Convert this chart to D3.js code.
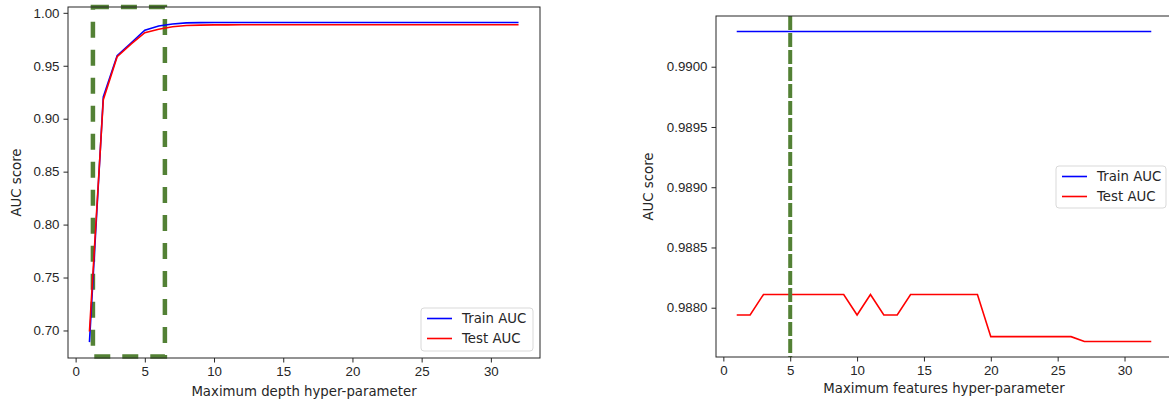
<!DOCTYPE html>
<html>
<head>
<meta charset="utf-8">
<script src="https://cdn.jsdelivr.net/npm/d3@7"></script>
<style>
  body { margin: 0; background: #fff; }
  svg { display: block; font-family: "DejaVu Sans", sans-serif; }
  .axis text { font-size: 13.3px; fill: #262626; }
  .axis path, .axis line { stroke: #262626; }
</style>
</head>
<body>
<script>
// max_depth sweep (left plot)
var depthValues = [1, 2, 3, 4, 5, 6, 7, 8, 9, 10, 11, 12, 13, 14, 15, 16,
                   17, 18, 19, 20, 21, 22, 23, 24, 25, 26, 27, 28, 29, 30, 31, 32];
var depthTrain = [0.689, 0.9205, 0.9595, 0.9715, 0.9836, 0.9875, 0.9895, 0.9905, 0.9907, 0.9908,
                  0.9908, 0.9908, 0.9908, 0.9908, 0.9908, 0.9908, 0.9908, 0.9908, 0.9908, 0.9908,
                  0.9908, 0.9908, 0.9908, 0.9908, 0.9908, 0.9908, 0.9908, 0.9908, 0.9908, 0.9908,
                  0.9908, 0.9908];
var depthTest = [0.699, 0.9180, 0.9585, 0.9705, 0.9812, 0.9845, 0.9868, 0.9880, 0.9884, 0.9886,
                 0.9886, 0.9887, 0.9887, 0.9888, 0.9888, 0.9888, 0.9888, 0.9888, 0.9888, 0.9888,
                 0.9888, 0.9888, 0.9888, 0.9888, 0.9888, 0.9888, 0.9888, 0.9888, 0.9888, 0.9888,
                 0.9888, 0.9888];
var depthTicksY = [0.70, 0.75, 0.80, 0.85, 0.90, 0.95, 1.00];
var depthBox = [1.25, 6.45, 0.6755, 1.0055];   // x0, x1, y0, y1 of green dashed box

// max_features sweep (right plot)
var featValues = [1, 2, 3, 4, 5, 6, 7, 8, 9, 10, 11, 12, 13, 14, 15, 16,
                  17, 18, 19, 20, 21, 22, 23, 24, 25, 26, 27, 28, 29, 30, 31, 32];
var featTrain = [0.990292, 0.990292, 0.990292, 0.990292, 0.990292, 0.990292, 0.990292, 0.990292,
                 0.990292, 0.990292, 0.990292, 0.990292, 0.990292, 0.990292, 0.990292, 0.990292,
                 0.990292, 0.990292, 0.990292, 0.990292, 0.990292, 0.990292, 0.990292, 0.990292,
                 0.990292, 0.990292, 0.990292, 0.990292, 0.990292, 0.990292, 0.990292, 0.990292];
var featTest = [0.98794, 0.98794, 0.98811, 0.98811, 0.98811, 0.98811, 0.98811, 0.98811,
                0.98811, 0.98794, 0.98811, 0.98794, 0.98794, 0.98811, 0.98811, 0.98811,
                0.98811, 0.98811, 0.98811, 0.98776, 0.98776, 0.98776, 0.98776, 0.98776,
                0.98776, 0.98776, 0.98772, 0.98772, 0.98772, 0.98772, 0.98772, 0.98772];
var featTicksY = [0.9880, 0.9885, 0.9890, 0.9895, 0.9900];
var featLine = 5;

var xTicks = [0, 5, 10, 15, 20, 25, 30];
var legendNames = ["Train AUC", "Test AUC"];
var lineColors = ["#0000ff", "#ff0000"];
var green = "#538135";

var W = 1169, H = 406;
var svg = d3.select("body").append("svg")
    .attr("width", W)
    .attr("height", H);

function drawPanel(opt) {
    var x = d3.scaleLinear().domain(opt.xDomain).range([opt.left, opt.right]);
    var y = d3.scaleLinear().domain(opt.yDomain).range([opt.bottom, opt.top]);
    var g = svg.append("g");

    var line = d3.line()
        .x(function (d) { return x(d[0]); })
        .y(function (d) { return y(d[1]); });

    // green guide box drawn first (under the series)
    if (opt.box) {
        var b = opt.box;
        g.append("rect")
            .attr("x", x(b[0]))
            .attr("y", y(b[3]))
            .attr("width", x(b[1]) - x(b[0]))
            .attr("height", y(b[2]) - y(b[3]))
            .attr("fill", "none")
            .attr("stroke", green)
            .attr("stroke-width", 4.5)
            .attr("stroke-dasharray", "16,12");
    }

    opt.series.forEach(function (s, i) {
        var pts = opt.xs.map(function (v, k) { return [v, s[k]]; });
        g.append("path")
            .datum(pts)
            .attr("fill", "none")
            .attr("stroke", lineColors[i])
            .attr("stroke-width", 1.6)
            .attr("d", line);
    });

    if (opt.vline != null) {
        g.append("line")
            .attr("x1", x(opt.vline)).attr("x2", x(opt.vline))
            .attr("y1", opt.top).attr("y2", opt.bottom)
            .attr("stroke", green)
            .attr("stroke-width", 4)
            .attr("stroke-dasharray", "14,3");
    }

    // axes
    g.append("g")
        .attr("class", "axis")
        .attr("transform", "translate(0," + opt.bottom + ")")
        .call(d3.axisBottom(x).tickValues(xTicks).tickSize(4.5).tickPadding(4).tickSizeOuter(0))
        .call(function (a) { a.select(".domain").remove(); });

    g.append("g")
        .attr("class", "axis")
        .attr("transform", "translate(" + opt.left + ",0)")
        .call(d3.axisLeft(y).tickValues(opt.yTicks).tickFormat(d3.format(opt.yFmt))
            .tickSize(4.5).tickPadding(4).tickSizeOuter(0))
        .call(function (a) { a.select(".domain").remove(); });

    g.append("rect")
        .attr("x", opt.left)
        .attr("y", opt.top)
        .attr("width", opt.right - opt.left)
        .attr("height", opt.bottom - opt.top)
        .attr("fill", "none")
        .attr("stroke", "#262626")
        .attr("stroke-width", 1);

    g.append("text")
        .attr("x", (opt.left + opt.right) / 2)
        .attr("y", opt.xLabelY)
        .attr("text-anchor", "middle")
        .style("font-size", "13.3px")
        .attr("fill", "#262626")
        .text(opt.xLabel);

    g.append("text")
        .attr("transform", "translate(" + opt.yLabelX + "," + ((opt.top + opt.bottom) / 2) + ") rotate(-90)")
        .attr("text-anchor", "middle")
        .style("font-size", "13.3px")
        .attr("fill", "#262626")
        .text("AUC score");

    // legend
    var L = opt.legend;
    var lg = g.append("g").attr("transform", "translate(" + L[0] + "," + L[1] + ")");
    lg.append("rect")
        .attr("width", L[2])
        .attr("height", L[3])
        .attr("rx", 3)
        .attr("fill", "#fff")
        .attr("fill-opacity", 0.8)
        .attr("stroke", "#d9d9d9");
    legendNames.forEach(function (name, i) {
        var yy = 10.5 + i * 20;
        lg.append("line")
            .attr("x1", 6).attr("x2", 31)
            .attr("y1", yy).attr("y2", yy)
            .attr("stroke", lineColors[i])
            .attr("stroke-width", 1.6);
        lg.append("text")
            .attr("x", 41)
            .attr("y", yy + 4.8)
            .style("font-size", "13.3px")
            .attr("fill", "#262626")
            .text(name);
    });
}

drawPanel({
    left: 68, right: 540, top: 7, bottom: 358,
    xDomain: [-0.55, 33.55], yDomain: [0.674, 1.0055],
    xs: depthValues, series: [depthTrain, depthTest],
    yTicks: depthTicksY, yFmt: ".2f",
    box: depthBox, vline: null,
    xLabel: "Maximum depth hyper-parameter", xLabelY: 396,
    yLabelX: 21,
    legend: [421, 308, 112, 43]
});

drawPanel({
    left: 716, right: 1172, top: 16, bottom: 357,
    xDomain: [-0.55, 33.55], yDomain: [0.987591, 0.990421],
    xs: featValues, series: [featTrain, featTest],
    yTicks: featTicksY, yFmt: ".4f",
    box: null, vline: featLine,
    xLabel: "Maximum features hyper-parameter", xLabelY: 393,
    yLabelX: 653,
    legend: [1056, 166, 110, 42]
});
</script>
</body>
</html>
